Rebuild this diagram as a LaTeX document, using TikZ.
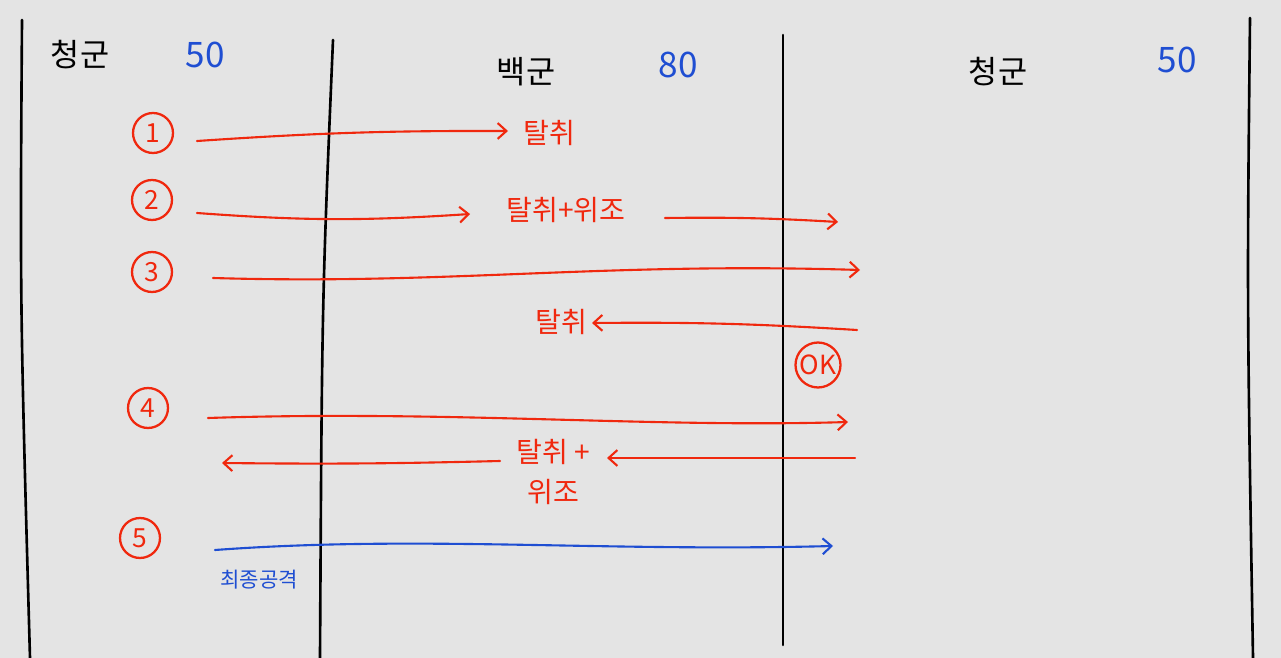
\documentclass[tikz,border=0pt]{standalone}
\usepackage{fontspec}
\newfontfamily\kr{Noto Sans CJK KR}
\usetikzlibrary{arrows.meta}
\definecolor{pen}{HTML}{F0280E}
\definecolor{ink}{HTML}{1F4ED2}
\definecolor{paper}{HTML}{E4E4E4}
\begin{document}
\begin{tikzpicture}[x=0.02cm,y=-0.02cm,font=\kr, line join=round, line cap=round, >={Straight Barb[length=5pt,width=9pt]},
  head/.style={font=\kr\fontsize{18}{20}\selectfont},
  count/.style={text=ink,font=\kr\fontsize{20}{22}\selectfont},
  num/.style={draw=pen,text=pen,circle,line width=1.3pt,minimum size=0.8cm,inner sep=0pt,font=\kr\fontsize{15}{16}\selectfont},
  lbl/.style={text=pen,font=\kr\fontsize{16}{23}\selectfont,align=center},
  msg/.style={pen,line width=1.2pt,->},
  last/.style={ink,line width=1.2pt,->}]
\useasboundingbox(0,0)rectangle(1281,658);
\fill[paper](0,0)rectangle(1281,658);
\draw[line width=1.5pt](22,20)..controls(20,300)..(30,658);
\draw[line width=1.5pt](333,40)..controls(322,300)..(320,658);
\draw[line width=1.5pt](783,35)--(783,645);
\draw[line width=1.5pt](1250,18)..controls(1247,300)..(1253,658);
\node[head](h1)at(80,55){청군};
\node[count](c1)at(205,55){50};
\node[head](h2)at(526,72){백군};
\node[count](c2)at(678,65){80};
\node[head](h3)at(998,72){청군};
\node[count](c3)at(1177,60){50};
\foreach \n/\x/\y in{1/153/133,2/152/200,3/152/272,4/148/408,5/140/538}
\node[num](n\n)at(\x,\y){\n};
\node[lbl](t1)at(549,133){탈취};
\node[lbl](t2)at(566,210){탈취+위조};
\node[lbl](t3)at(561,322){탈취};
\node[num,minimum size=0.9cm](ok)at(818,365){OK};
\node[lbl](t4)at(553,472){탈취 +\\위조};
\node[text=ink,font=\kr\fontsize{12}{14}\selectfont](t5)at(259,580){최종공격};
\coordinate(a1)at(197,141);
\coordinate(a2)at(197,213);\coordinate(b2)at(470,214);
\coordinate(c2s)at(665,218);\coordinate(d2)at(838,222);
\coordinate(a3)at(213,278);\coordinate(b3)at(860,270);
\coordinate(c3s)at(857,330);\coordinate(d3)at(592,323);
\coordinate(a4)at(208,418);\coordinate(b4)at(848,422);
\coordinate(c4)at(855,458);\coordinate(d4)at(607,458);
\coordinate(e4)at(500,461);\coordinate(f4)at(222,463);
\coordinate(a5)at(215,550);\coordinate(b5)at(833,546);
\draw[msg](a1)to[bend left=2](508,131);
\draw[msg](a2)to[bend right=4](b2);
\draw[msg](c2s)to[bend left=2](d2);
\draw[msg](a3)..controls(450,285)and(600,262)..(b3);
\draw[msg](c3s)to[bend right=2](d3);
\draw[msg](a4)..controls(450,410)and(650,428)..(b4);
\draw[msg](c4)--(d4);
\draw[msg](e4)to[bend left=1](f4);
\draw[last](a5)..controls(420,535)and(600,552)..(b5);
\end{tikzpicture}
\end{document}
